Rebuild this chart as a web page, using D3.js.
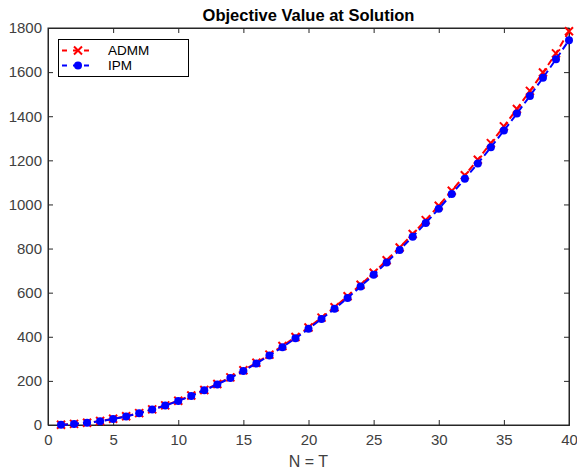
<!DOCTYPE html>
<html>
<head>
<meta charset="utf-8">
<script src="https://cdn.jsdelivr.net/npm/d3@7"></script>
<style>
  html, body { margin: 0; padding: 0; background: #fff; }
  svg { display: block; font-family: "Liberation Sans", Arial, Helvetica, sans-serif; }
</style>
</head>
<body>
<svg id="chart" width="577" height="470"></svg>
<script>
const nValues = [1,2,3,4,5,6,7,8,9,10,11,12,13,14,15,16,17,18,19,20,21,22,23,24,25,26,27,28,29,30,31,32,33,34,35,36,37,38,39,40];
const admmValues = [1,5,10,18,28,40,54,71,89,110,134,159,186,216,248,282,319,358,399,442,487,534,584,636,690,747,805,866,929,994,1062,1132,1203,1278,1354,1433,1515,1598,1685,1785];
const ipmValues = [1,4,10,17,27,39,53,70,88,109,132,157,184,213,245,279,315,353,393,436,481,527,576,628,681,737,794,854,916,980,1047,1116,1186,1259,1335,1412,1492,1574,1658,1745];
const xTicks = [0,5,10,15,20,25,30,35,40];
const yTicks = [0,200,400,600,800,1000,1200,1400,1600,1800];
const seriesNames = ["ADMM","IPM"];
const titleText = "Objective Value at Solution";
const xLabelText = "N = T";

const svg = d3.select("#chart");
const L = 48, R = 569, T = 28, B = 425;
const x = d3.scaleLinear().domain([0,40]).range([L,R]);
const y = d3.scaleLinear().domain([0,1800]).range([B,T]);
const axisColor = "#262626";
const tickColor = "#404040";

// box
svg.append("rect").attr("x",L).attr("y",T).attr("width",R-L).attr("height",B-T)
  .attr("fill","#fff").attr("stroke",axisColor).attr("stroke-width",1);

// axes (ticks inward)
const fs = "15px";
const gx = svg.append("g").attr("transform",`translate(0,${B})`)
  .call(d3.axisBottom(x).tickValues(xTicks).tickSize(-5).tickPadding(9).tickFormat(d3.format("d")));
const gxTop = svg.append("g").attr("transform",`translate(0,${T})`)
  .call(d3.axisTop(x).tickValues(xTicks).tickSize(-5).tickFormat(""));
const gy = svg.append("g").attr("transform",`translate(${L},0)`)
  .call(d3.axisLeft(y).tickValues(yTicks).tickSize(-5).tickPadding(6).tickFormat(d3.format("d")));
const gyR = svg.append("g").attr("transform",`translate(${R},0)`)
  .call(d3.axisRight(y).tickValues(yTicks).tickSize(-5).tickFormat(""));
[gx,gxTop,gy,gyR].forEach(g => {
  g.select(".domain").attr("stroke",axisColor);
  g.selectAll(".tick line").attr("stroke",axisColor);
  g.selectAll(".tick text").attr("fill",tickColor).style("font-size",fs).style("font-family",'"Liberation Sans", Arial, sans-serif');
});

// title and label
svg.append("text").attr("x",(L+R)/2).attr("y",21).attr("text-anchor","middle")
  .style("font-size","16.5px").style("font-weight","bold").attr("fill","#000").text(titleText);
svg.append("text").attr("x",(L+R)/2).attr("y",467).attr("text-anchor","middle")
  .style("font-size","16px").attr("fill",tickColor).text(xLabelText);

const line = d3.line().x((d,i)=>x(nValues[i])).y(d=>y(d));

// ADMM
svg.append("path").datum(admmValues).attr("d",line).attr("fill","none")
  .attr("stroke","#ff0000").attr("stroke-width",2).attr("stroke-dasharray","7,4");
const xm = 4;
function crossPath(cx,cy){ return `M${cx-xm},${cy-xm}L${cx+xm},${cy+xm}M${cx-xm},${cy+xm}L${cx+xm},${cy-xm}`; }
svg.append("g").selectAll("path").data(admmValues).join("path")
  .attr("d",(d,i)=>crossPath(x(nValues[i]),y(d)))
  .attr("stroke","#ff0000").attr("stroke-width",2).attr("fill","none");

// IPM
svg.append("path").datum(ipmValues).attr("d",line).attr("fill","none")
  .attr("stroke","#0000ff").attr("stroke-width",2).attr("stroke-dasharray","7,4");
svg.append("g").selectAll("circle").data(ipmValues).join("circle")
  .attr("cx",(d,i)=>x(nValues[i])).attr("cy",d=>y(d)).attr("r",4).attr("fill","#0000ff");

// legend
const lg = svg.append("g");
lg.append("rect").attr("x",58.5).attr("y",39.5).attr("width",130).attr("height",37)
  .attr("fill","#fff").attr("stroke","#000").attr("stroke-width",1);
const rows = [{name:seriesNames[0],color:"#ff0000",y:50.5},{name:seriesNames[1],color:"#0000ff",y:65.5}];
rows.forEach((r,k)=>{
  lg.append("line").attr("x1",62).attr("x2",94).attr("y1",r.y).attr("y2",r.y)
    .attr("stroke",r.color).attr("stroke-width",2).attr("stroke-dasharray","5,6");
  if(k===0){
    lg.append("path").attr("d",crossPath(78,r.y)).attr("stroke",r.color).attr("stroke-width",2);
  } else {
    lg.append("circle").attr("cx",78).attr("cy",r.y).attr("r",4).attr("fill",r.color);
  }
  lg.append("text").attr("x",108).attr("y",r.y+4.5).style("font-size","13.5px").attr("fill","#000").text(r.name);
});
</script>
</body>
</html>
